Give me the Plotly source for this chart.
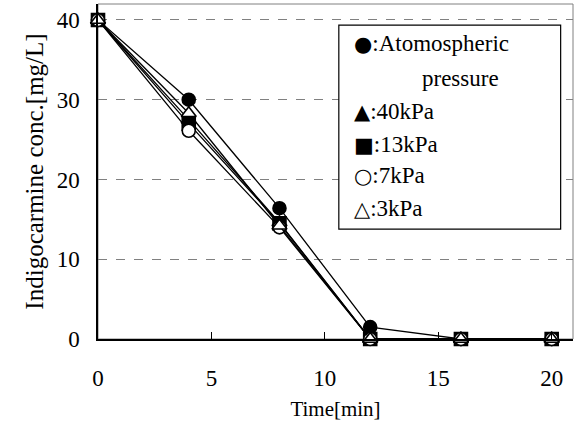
import plotly.graph_objects as go

# Sampling times [min]
time_min = [0, 4, 8, 12, 16, 20]

# Indigocarmine concentration [mg/L] per pressure condition
atmospheric = [40, 30.0, 16.4, 1.5, 0, 0]
kpa40 = [40, 27.5, 14.6, 0, 0, 0]
kpa13 = [40, 27.0, 14.5, 0, 0, 0]
kpa7 = [40, 26.1, 14.0, 0, 0, 0]
kpa3 = [40, 28.3, 14.2, 0, 0, 0]

series = [
    (atmospheric, "circle", "black"),
    (kpa40, "triangle-up", "black"),
    (kpa13, "square", "black"),
    (kpa7, "circle", "white"),
    (kpa3, "triangle-up", "white"),
]

legend_symbols = ["●", "", "▲", "■", "○", "△"]
legend_labels = [":Atomospheric", "pressure", ":40kPa", ":13kPa", ":7kPa", ":3kPa"]

FONT = "Liberation Serif"
SYMFONT = "DejaVu Sans"

fig = go.Figure()
for values, symbol, fill in series:
    fig.add_trace(go.Scatter(
        x=time_min, y=values, mode="lines+markers",
        line=dict(color="black", width=1.3),
        marker=dict(symbol=symbol, size=13, color=fill,
                    line=dict(color="black", width=1.6)),
        showlegend=False, cliponaxis=False,
    ))

# Legend panel drawn as a framed text box
fig.add_shape(type="rect", xref="paper", yref="paper",
              x0=0.507, x1=0.974, y0=0.328, y1=0.937,
              line=dict(color="black", width=1.2), fillcolor="white", layer="above")
row_y = [0.883, 0.777, 0.680, 0.580, 0.489, 0.389]
for sym, lab, yy in zip(legend_symbols, legend_labels, row_y):
    if sym:
        txt = f"<span style='font-family:{SYMFONT};font-size:21px'>{sym}</span>{lab}"
        x0 = 0.535
    else:
        txt = lab
        x0 = 0.678
    fig.add_annotation(xref="paper", yref="paper", x=x0, y=yy,
                       text=txt, showarrow=False, xanchor="left", yanchor="middle",
                       font=dict(family=FONT, size=23, color="black"))

# Outer frame of the plotting area
fig.add_shape(type="rect", xref="paper", yref="paper", x0=0, x1=1, y0=0, y1=1,
              line=dict(color="#808080", width=1), layer="below")

fig.update_layout(
    width=578, height=429,
    margin=dict(l=98, r=5, t=4, b=90),
    plot_bgcolor="white", paper_bgcolor="white",
    font=dict(family=FONT, size=22, color="black"),
    xaxis=dict(range=[0, 20.94], tickvals=[0, 5, 10, 15, 20],
               ticks="inside", ticklen=7, tickcolor="black", tickwidth=1,
               showline=True, linecolor="black", linewidth=2,
               showgrid=False, zeroline=False, ticklabelstandoff=17,
               tickfont=dict(family=FONT, size=23),
               title=dict(text="Time[min]", font=dict(family=FONT, size=21), standoff=12)),
    yaxis=dict(range=[0, 42], tickvals=[0, 10, 20, 30, 40],
               ticks="", showline=True, linecolor="black", linewidth=1.5,
               showgrid=True, gridcolor="#808080", griddash="dash", gridwidth=1.3,
               zeroline=False, tickfont=dict(family=FONT, size=23), ticklabelstandoff=12,
               title=dict(text="Indigocarmine conc.[mg/L]", font=dict(family=FONT, size=25), standoff=6)),
)

fig.write_html("out.html")
